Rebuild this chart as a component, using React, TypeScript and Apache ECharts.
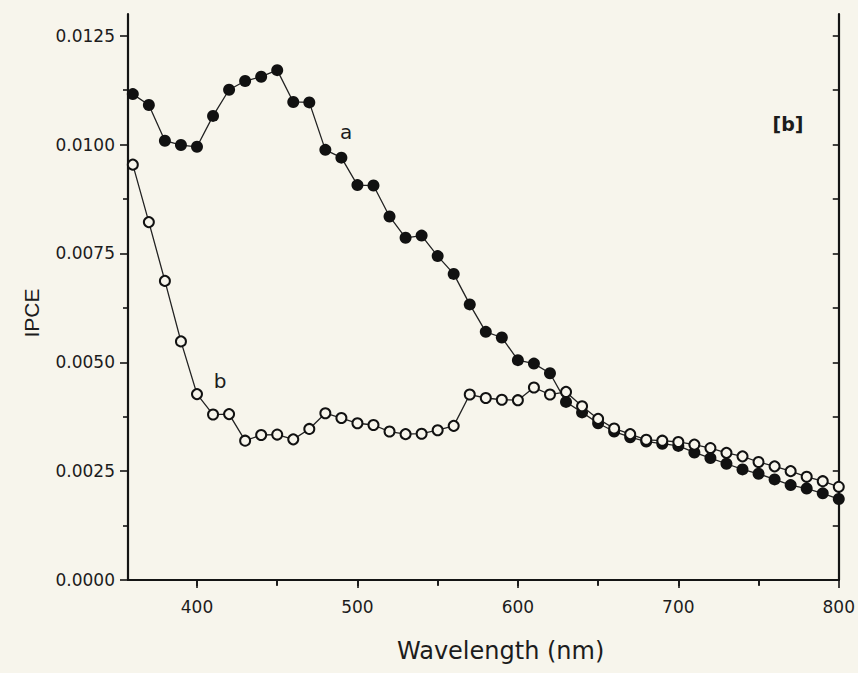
import React, { useEffect, useRef } from "react";
import * as echarts from "echarts";

const wavelengths: number[] = [
  360, 370, 380, 390, 400, 410, 420, 430, 440, 450, 460, 470, 480, 490, 500,
  510, 520, 530, 540, 550, 560, 570, 580, 590, 600, 610, 620, 630, 640, 650,
  660, 670, 680, 690, 700, 710, 720, 730, 740, 750, 760, 770, 780, 790, 800,
];

const ipceA: number[] = [
  0.01116, 0.01091, 0.01009, 0.00999, 0.00995, 0.01066, 0.01126, 0.01146, 0.01156, 0.01171,
  0.01098, 0.01097, 0.00988, 0.0097, 0.00907, 0.00906, 0.00835, 0.00786, 0.00791, 0.00744,
  0.00703, 0.00633, 0.0057, 0.00557, 0.00505, 0.00497, 0.00475, 0.00409, 0.00385, 0.0036,
  0.00341, 0.00328, 0.00318, 0.00313, 0.00308, 0.00293, 0.0028, 0.00267, 0.00254, 0.00244,
  0.00231, 0.00218, 0.0021, 0.00199, 0.00186,
];

const ipceB: number[] = [
  0.00954, 0.00822, 0.00687, 0.00548, 0.00427, 0.0038, 0.00381, 0.0032, 0.00333, 0.00334,
  0.00323, 0.00347, 0.00383, 0.00372, 0.0036, 0.00356, 0.00341, 0.00335, 0.00336, 0.00344,
  0.00354, 0.00426, 0.00418, 0.00414, 0.00413, 0.00442, 0.00426, 0.00432, 0.00399, 0.0037,
  0.00348, 0.00335, 0.00322, 0.0032, 0.00317, 0.00311, 0.00303, 0.00292, 0.00284, 0.00271,
  0.00261, 0.0025, 0.00237, 0.00227, 0.00214,
];

const xMajorTicks: number[] = [400, 500, 600, 700, 800];
const xMinorTicks: number[] = [450, 550, 650, 750];
const xTopTicks: number[] = [400, 450, 500, 550, 600, 650, 700, 750];
const yMajorTicks: number[] = [0, 0.0025, 0.005, 0.0075, 0.01, 0.0125];
const yMinorTicks: number[] = [0.00125, 0.00375, 0.00625, 0.00875, 0.01125];
const yRightTicks: number[] = [
  0.00125, 0.0025, 0.00375, 0.005, 0.00625, 0.0075, 0.00875, 0.01, 0.01125, 0.0125,
];

const BG = "#f7f5ec";
const INK = "#141414";
const TEXT = "#1c1c1c";
const FONT = "'DejaVu Sans', Verdana, sans-serif";

export default function App() {
  const ref = useRef<HTMLDivElement>(null);

  useEffect(() => {
    if (!ref.current) return;
    const chart = echarts.init(ref.current, undefined, { renderer: "svg" });

    const xMin = 357;
    const xMax = 800;
    const yMin = 0;
    const yMax = 0.013;

    const baseX = {
      type: "value" as const,
      min: xMin,
      max: xMax,
      splitLine: { show: false },
    };
    const baseY = {
      type: "value" as const,
      min: yMin,
      max: yMax,
      splitLine: { show: false },
    };

    const option: any = {
      animation: false,
      backgroundColor: BG,
      grid: { left: 128, right: 18, top: 14, bottom: 93, containLabel: false },
      xAxis: [
        {
          ...baseX,
          position: "bottom",
          axisLine: { show: true, lineStyle: { color: INK, width: 2.2 } },
          axisTick: {
            show: true,
            customValues: xMajorTicks,
            length: 8,
            inside: false,
            lineStyle: { color: INK, width: 1.6 },
          },
          axisLabel: {
            show: true,
            customValues: xMajorTicks,
            margin: 18,
            color: TEXT,
            fontSize: 17,
            fontFamily: FONT,
          },
        },
        {
          ...baseX,
          position: "bottom",
          axisLine: { show: false },
          axisTick: {
            show: true,
            customValues: xMinorTicks,
            length: 5,
            inside: false,
            lineStyle: { color: INK, width: 1.6 },
          },
          axisLabel: { show: false },
        },
        {
          ...baseX,
          position: "top",
          axisLine: { show: true, lineStyle: { color: INK, width: 2.2 } },
          axisTick: {
            show: true,
            customValues: xTopTicks,
            length: 6,
            inside: true,
            lineStyle: { color: INK, width: 1.6 },
          },
          axisLabel: { show: false },
        },
      ],
      yAxis: [
        {
          ...baseY,
          position: "left",
          axisLine: { show: true, lineStyle: { color: INK, width: 2.2 } },
          axisTick: {
            show: true,
            customValues: yMajorTicks,
            length: 8,
            inside: false,
            lineStyle: { color: INK, width: 1.6 },
          },
          axisLabel: {
            show: true,
            customValues: yMajorTicks,
            margin: 13,
            color: TEXT,
            fontSize: 17,
            fontFamily: FONT,
            formatter: (v: number) => v.toFixed(4),
          },
        },
        {
          ...baseY,
          position: "left",
          axisLine: { show: false },
          axisTick: {
            show: true,
            customValues: yMinorTicks,
            length: 5,
            inside: false,
            lineStyle: { color: INK, width: 1.6 },
          },
          axisLabel: { show: false },
        },
        {
          ...baseY,
          position: "right",
          axisLine: { show: true, lineStyle: { color: INK, width: 2.2 } },
          axisTick: {
            show: true,
            customValues: yRightTicks,
            length: 6,
            inside: true,
            lineStyle: { color: INK, width: 1.6 },
          },
          axisLabel: { show: false },
        },
      ],
      series: [
        {
          name: "a",
          type: "line",
          xAxisIndex: 0,
          yAxisIndex: 0,
          data: wavelengths.map((w, i) => [w, ipceA[i]]),
          symbol: "circle",
          symbolSize: 12,
          showAllSymbol: true,
          itemStyle: { color: "#111" },
          lineStyle: { color: "#222", width: 1.3 },
          z: 2,
        },
        {
          name: "b",
          type: "line",
          xAxisIndex: 0,
          yAxisIndex: 0,
          data: wavelengths.map((w, i) => [w, ipceB[i]]),
          symbol: "circle",
          symbolSize: 10,
          showAllSymbol: true,
          itemStyle: { color: BG, borderColor: "#111", borderWidth: 2 },
          lineStyle: { color: "#222", width: 1.3 },
          z: 3,
        },
      ],
      graphic: [
        {
          type: "text",
          left: 397,
          top: 639,
          style: {
            text: "Wavelength (nm)",
            fontSize: 24,
            fontFamily: FONT,
            fill: TEXT,
          },
        },
        {
          type: "text",
          x: 31,
          y: 313,
          rotation: Math.PI / 2,
          style: {
            text: "IPCE",
            fontSize: 21,
            fontFamily: "'Liberation Sans', Arial, sans-serif",
            fill: TEXT,
            align: "center",
            verticalAlign: "middle",
          },
        },
        {
          type: "text",
          x: 788,
          y: 124,
          style: {
            text: "[b]",
            fontSize: 19,
            fontWeight: "bold",
            fontFamily: FONT,
            fill: TEXT,
            align: "center",
            verticalAlign: "middle",
          },
        },
        {
          type: "text",
          x: 346,
          y: 132,
          style: {
            text: "a",
            fontSize: 20,
            fontFamily: FONT,
            fill: TEXT,
            align: "center",
            verticalAlign: "middle",
          },
        },
        {
          type: "text",
          x: 220,
          y: 381,
          style: {
            text: "b",
            fontSize: 20,
            fontFamily: FONT,
            fill: TEXT,
            align: "center",
            verticalAlign: "middle",
          },
        },
      ],
    };

    chart.setOption(option);
    return () => chart.dispose();
  }, []);

  return (
    <div
      ref={ref}
      style={{ position: "fixed", left: 0, top: 0, width: 858, height: 673, background: BG }}
    />
  );
}
